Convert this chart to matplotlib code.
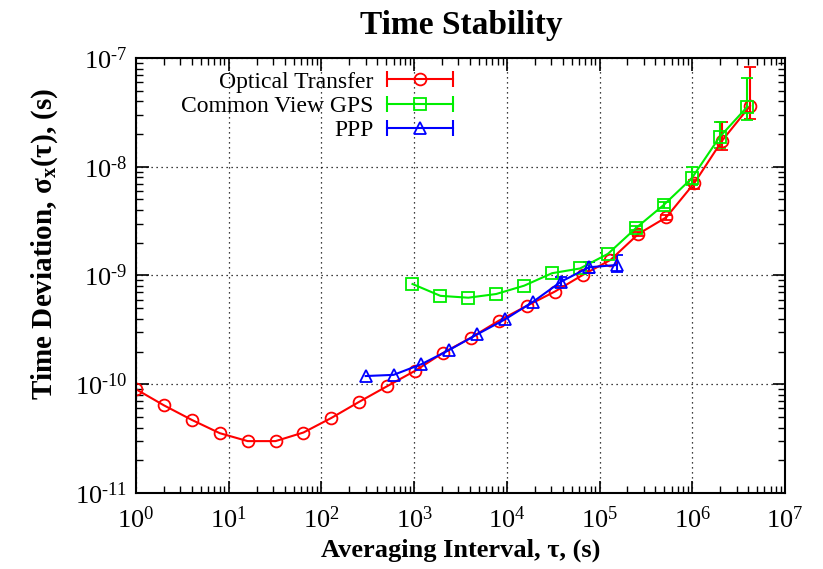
import numpy as np
import matplotlib
matplotlib.use("Agg")
import matplotlib.pyplot as plt
from matplotlib.ticker import LogLocator, NullFormatter, FuncFormatter
from matplotlib.lines import Line2D
from matplotlib.legend_handler import HandlerLine2D

plt.rcParams['font.family'] = ['Liberation Serif', 'DejaVu Serif']
plt.rcParams['mathtext.fontset'] = 'custom'
plt.rcParams['mathtext.rm'] = 'Liberation Serif'
plt.rcParams['mathtext.it'] = 'Liberation Serif:italic'
plt.rcParams['mathtext.bf'] = 'Liberation Serif:bold'

# ---- data ----
opt_tau = [2.0**k for k in range(23)]
opt_val = [9.0e-11, 6.4e-11, 4.7e-11, 3.55e-11, 3.0e-11, 3.0e-11, 3.6e-11, 4.9e-11,
           6.9e-11, 9.6e-11, 1.33e-10, 1.94e-10, 2.68e-10, 3.84e-10, 5.25e-10, 7.1e-10,
           1.01e-9, 1.39e-9, 2.41e-9, 3.43e-9, 7.05e-9, 1.74e-8, 3.62e-8]
opt_lo = [np.nan]*18 + [2.3e-9, 3.25e-9, 6.2e-9, 1.43e-8, 2.73e-8]
opt_hi = [np.nan]*18 + [2.5e-9, 3.6e-9, 7.6e-9, 2.6e-8, 8.2e-8]

gps_tau = [960.0 * 2**k for k in range(13)]
gps_val = [8.35e-10, 6.5e-10, 6.25e-10, 6.76e-10, 8.06e-10, 1.05e-9, 1.16e-9, 1.58e-9,
           2.72e-9, 4.45e-9, 7.8e-9, 1.87e-8, 3.57e-8]
gps_lo = [np.nan]*8 + [2.6e-9, 4.2e-9, 6.8e-9, 1.5e-8, 2.69e-8]
gps_hi = [np.nan]*8 + [2.85e-9, 4.7e-9, 9.9e-9, 2.6e-8, 6.5e-8]

ppp_tau = [300.0 * 2**k for k in range(10)]
ppp_val = [1.19e-10, 1.22e-10, 1.53e-10, 2.07e-10, 2.88e-10, 3.96e-10, 5.74e-10,
           8.77e-10, 1.19e-9, 1.25e-9]
ppp_lo = [np.nan]*7 + [8.0e-10, 1.05e-9, 1.07e-9]
ppp_hi = [np.nan]*7 + [9.6e-10, 1.34e-9, 1.54e-9]

xticks = [1e0, 1e1, 1e2, 1e3, 1e4, 1e5, 1e6, 1e7]
yticks = [1e-11, 1e-10, 1e-9, 1e-8, 1e-7]

fig = plt.figure(figsize=(8.23, 5.69), dpi=100)
ax = fig.add_axes([136/823, 1-493/569, (785-136)/823, (493-58)/569])

handles = []
handler_map = {}

def series(tau, val, lo, hi, color, marker, label):
    val = np.array(val); lo = np.array(lo); hi = np.array(hi)
    err = np.vstack([val - lo, hi - val])
    ax.errorbar(tau, val, yerr=err, color=color, marker=marker, ms=8.5,
                mfc='none', mec=color, mew=1.3, lw=1.5, capsize=4.5,
                elinewidth=1.5, capthick=1.5)
    caps = Line2D([], [], color=color, lw=1.5, marker='|', ms=11, mew=1.5)
    mk = Line2D([], [], color=color, ls='none', marker=marker, ms=8.5,
                mfc='none', mec=color, mew=1.3)
    handler_map[caps] = HandlerLine2D(numpoints=2)
    handler_map[mk] = HandlerLine2D(numpoints=1)
    handles.append(((caps, mk), label))

series(opt_tau, opt_val, opt_lo, opt_hi, '#ff0000', 'o', 'Optical Transfer')
series(gps_tau, gps_val, gps_lo, gps_hi, '#00ee00', 's', 'Common View GPS')
series(ppp_tau, ppp_val, ppp_lo, ppp_hi, '#0000ff', '^', 'PPP')

ax.set_xscale('log')
ax.set_yscale('log')
ax.set_xlim(1e0, 1e7)
ax.set_ylim(1e-11, 1e-7)
ax.set_xticks(xticks)
ax.set_yticks(yticks)

def tick_fmt(v, p):
    e = int(round(np.log10(v)))
    if e < 0:
        return r'$\mathregular{10^{\text{-}%d}}$' % (-e)
    return r'$\mathregular{10^{%d}}$' % e

fmt = FuncFormatter(tick_fmt)
ax.xaxis.set_major_formatter(fmt)
ax.yaxis.set_major_formatter(fmt)
ax.xaxis.set_minor_locator(LogLocator(base=10, subs=np.arange(2, 10), numticks=20))
ax.yaxis.set_minor_locator(LogLocator(base=10, subs=np.arange(2, 10), numticks=20))
ax.xaxis.set_minor_formatter(NullFormatter())
ax.yaxis.set_minor_formatter(NullFormatter())
ax.tick_params(which='both', direction='in', top=True, right=True, labelsize=19)
ax.tick_params(which='major', length=9, width=1.2)
ax.tick_params(which='minor', length=5, width=1.0)
ax.tick_params(axis='x', pad=10)
ax.tick_params(axis='y', pad=6)
ax.grid(True, which='major', color='black', linestyle=(0, (1, 3)), linewidth=0.9)
for s in ax.spines.values():
    s.set_linewidth(1.5)

ax.set_title('Time Stability', fontsize=24, fontweight='bold', pad=17, x=0.502)
ax.set_xlabel('Averaging Interval, τ, (s)', fontsize=19, fontweight='bold', labelpad=4)
ax.set_ylabel(r'Time Deviation, σ$_\mathbf{x}$(τ), (s)', fontsize=21, fontweight='bold')
ax.yaxis.set_label_coords(-0.117, 0.572)

leg = ax.legend([h for h, _ in handles], [l for _, l in handles], handler_map=handler_map,
                loc='upper left', bbox_to_anchor=(0.05, 1.0), frameon=False,
                markerfirst=False, fontsize=17, handlelength=3.4,
                labelspacing=0.12, borderaxespad=0.15, handletextpad=0.25)
for t in leg.get_texts():
    t.set_ha('right')
leg._legend_box.align = 'right'

fig.savefig('out.png', dpi=100)
